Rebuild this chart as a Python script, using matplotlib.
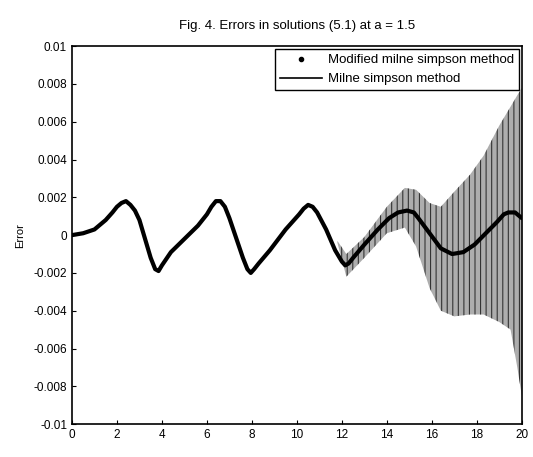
import numpy as np
import matplotlib
matplotlib.use("Agg")
import matplotlib.pyplot as plt
from matplotlib.lines import Line2D

plt.rcParams['font.family'] = ['Liberation Sans', 'DejaVu Sans']
plt.rcParams['hatch.linewidth'] = 0.8

# curve (t, error)
t = [0, 0.5, 1.0, 1.5, 1.8, 2.0, 2.2, 2.4, 2.6, 2.8, 3.0, 3.3, 3.5, 3.7, 3.85,
     4.0, 4.4, 5.0, 5.6, 6.0, 6.2, 6.4, 6.6, 6.8, 7.0, 7.2, 7.6, 7.8, 7.95,
     8.1, 8.3, 8.8, 9.5, 10.1, 10.3, 10.5, 10.7, 10.9, 11.3, 11.7, 12.0, 12.15,
     12.3, 12.5, 13.0, 13.6, 14.1, 14.5, 14.9, 15.2, 15.4, 15.9, 16.4, 16.9,
     17.4, 17.9, 18.4, 18.9, 19.2, 19.4, 19.7, 20.0]
milne = [0, 0.0001, 0.0003, 0.0008, 0.0012, 0.0015, 0.0017, 0.0018, 0.0016,
         0.0013, 0.0008, -0.0004, -0.0012, -0.0018, -0.0019, -0.0016, -0.0009,
         -0.0002, 0.0005, 0.0011, 0.0015, 0.0018, 0.0018, 0.0015, 0.0009,
         0.0002, -0.0012, -0.0018, -0.0020, -0.0018, -0.0015, -0.0008, 0.0003,
         0.0011, 0.0014, 0.0016, 0.0015, 0.0012, 0.0003, -0.0008, -0.0014,
         -0.0016, -0.0015, -0.0012, -0.0005, 0.0003, 0.0009, 0.0012, 0.0013,
         0.0012, 0.0009, 0.0001, -0.0007, -0.0010, -0.0009, -0.0005, 0.0001,
         0.0007, 0.0011, 0.0012, 0.0012, 0.0009]

# spread of the modified method points (upper / lower edge)
env_t = [11.8, 12.2, 13.0, 14.0, 14.8, 15.3, 15.9, 16.4, 17.0, 17.7, 18.3,
         19.0, 19.5, 19.8, 20.0]
env_upper = [-0.0003, -0.0010, -0.0001, 0.0015, 0.0025, 0.0024, 0.0017,
             0.0015, 0.0023, 0.0032, 0.0042, 0.0058, 0.0068, 0.0074, 0.0078]
env_lower = [-0.0004, -0.0022, -0.0012, 0.0001, 0.0004, -0.0006, -0.0028,
             -0.0040, -0.0043, -0.0042, -0.0042, -0.0046, -0.0050, -0.0070,
             -0.0085]

xticks = [0, 2, 4, 6, 8, 10, 12, 14, 16, 18, 20]
yticks = [-0.01, -0.008, -0.006, -0.004, -0.002, 0, 0.002, 0.004, 0.006, 0.008, 0.01]
ylabels = ['-0.01', '-0.008', '-0.006', '-0.004', '-0.002', '0',
           '0.002', '0.004', '0.006', '0.008', '0.01']

fig = plt.figure(figsize=(5.33, 4.57), dpi=100)
ax = fig.add_axes([0.135, 0.072, 0.844, 0.827])

# modified method: dense points, shown as the hatched grey band
ax.fill_between(env_t, env_lower, env_upper, facecolor='0.68',
                edgecolor='0.2', hatch='|||', linewidth=0)
# the points sitting on the curve make it look thick
ax.plot(t, milne, color='black', lw=3, solid_capstyle='round', solid_joinstyle='round')
ax.plot(t, milne, color='black', lw=1.2)

ax.set_xlim(0, 20)
ax.set_ylim(-0.01, 0.01)
ax.set_xticks(xticks)
ax.set_yticks(yticks)
ax.set_yticklabels(ylabels)
ax.tick_params(direction='in', labelsize=8.5, length=3)
for s in ax.spines.values():
    s.set_linewidth(1.2)

ax.set_ylabel('Error', fontsize=8, labelpad=6)
ax.set_title('Fig. 4. Errors in solutions (5.1) at a = 1.5', fontsize=9.5, pad=12)

handles = [Line2D([], [], color='black', marker='.', linestyle='none', markersize=6),
           Line2D([], [], color='black', lw=1.2)]
leg = ax.legend(handles, ['Modified milne simpson method', 'Milne simpson method'],
                loc='upper right', fontsize=9.5, fancybox=False, framealpha=1,
                edgecolor='black', borderaxespad=0.2, handlelength=3.2,
                handletextpad=0.4)
leg.get_frame().set_linewidth(1.0)

plt.savefig('out.png', dpi=100)
